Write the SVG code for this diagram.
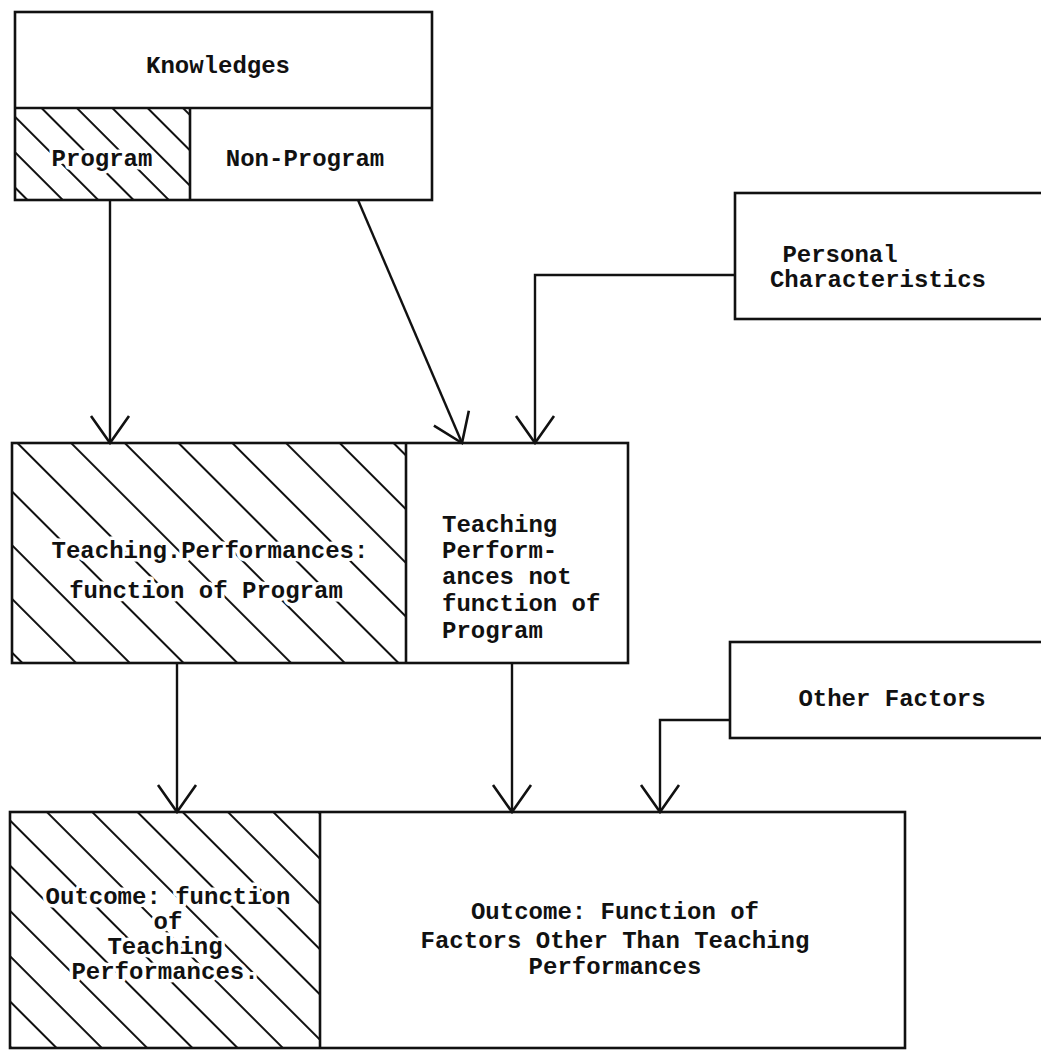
<svg xmlns="http://www.w3.org/2000/svg" width="1041" height="1064" viewBox="0 0 1041 1064">
<style>
.box{fill:none;stroke:#111;stroke-width:2.6}
.wbox{fill:#fff;stroke:#111;stroke-width:2.6}
.t{font-family:"Liberation Mono","Courier New",monospace;font-weight:bold;font-size:24px;fill:#111;text-anchor:middle}
.tl{text-anchor:start}
.halo{stroke:#fff;stroke-width:7;paint-order:stroke;stroke-linejoin:round}
.conn{fill:none;stroke:#111;stroke-width:2.4}
</style>
<defs>
<pattern id="h1" patternUnits="userSpaceOnUse" width="25" height="25" patternTransform="rotate(-45)"><line x1="3" y1="0" x2="3" y2="25" stroke="#111" stroke-width="2"/></pattern>
<pattern id="h2" patternUnits="userSpaceOnUse" width="38" height="38" patternTransform="rotate(-45)"><line x1="3" y1="0" x2="3" y2="38" stroke="#111" stroke-width="2"/></pattern>
<pattern id="h3" patternUnits="userSpaceOnUse" width="32" height="32" patternTransform="rotate(-45)"><line x1="3" y1="0" x2="3" y2="32" stroke="#111" stroke-width="2"/></pattern>
<marker id="arr" markerUnits="userSpaceOnUse" markerWidth="40" markerHeight="50" viewBox="-30 -25 40 50" refX="0" refY="0" orient="auto"><path d="M-27,-19 L0,0 L-27,19" fill="none" stroke="#111" stroke-width="2.6"/></marker>
</defs>
<rect width="1041" height="1064" fill="#fff"/>

<g id="knowledges">
<rect x="15" y="108" width="175" height="92" fill="url(#h1)"/>
<rect class="box" x="15" y="12" width="417" height="188"/>
<line class="box" x1="15" y1="108" x2="432" y2="108"/>
<line class="box" x1="190" y1="108" x2="190" y2="200"/>
<text class="t" x="218" y="73">Knowledges</text>
<text class="t halo" x="102" y="166">Program</text>
<text class="t" x="305" y="166">Non-Program</text>
</g>

<g id="personal">
<rect class="box" x="735" y="193" width="315" height="126"/>
<text class="t" x="840" y="262">Personal</text>
<text class="t" x="878" y="287">Characteristics</text>
</g>

<g id="teaching">
<rect x="12" y="443" width="394" height="220" fill="url(#h2)"/>
<rect class="box" x="12" y="443" width="616" height="220"/>
<line class="box" x1="406" y1="443" x2="406" y2="663"/>
<text class="t halo" x="210" y="558">Teaching.Performances:</text>
<text class="t halo" x="206" y="598">function of Program</text>
<text class="t tl" x="442" y="532">Teaching</text>
<text class="t tl" x="442" y="558">Perform-</text>
<text class="t tl" x="442" y="584">ances not</text>
<text class="t tl" x="442" y="611">function of</text>
<text class="t tl" x="442" y="638">Program</text>
</g>

<g id="other">
<rect class="box" x="730" y="642" width="320" height="96"/>
<text class="t" x="892" y="706">Other Factors</text>
</g>

<g id="outcome">
<rect x="10" y="812" width="310" height="236" fill="url(#h3)"/>
<rect class="box" x="10" y="812" width="895" height="236"/>
<line class="box" x1="320" y1="812" x2="320" y2="1048"/>
<text class="t halo" x="168" y="904">Outcome: function</text>
<text class="t halo" x="168" y="929">of</text>
<text class="t halo" x="165" y="954">Teaching</text>
<text class="t halo" x="165" y="979">Performances.</text>
<text class="t" x="615" y="919">Outcome: Function of</text>
<text class="t" x="615" y="948">Factors Other Than Teaching</text>
<text class="t" x="615" y="974">Performances</text>
</g>

<g id="connectors">
<path class="conn" d="M110,200 L110,443" marker-end="url(#arr)"/>
<path class="conn" d="M358,200 L462,443" marker-end="url(#arr)"/>
<path class="conn" d="M735,275 L535,275 L535,443" marker-end="url(#arr)"/>
<path class="conn" d="M177,663 L177,812" marker-end="url(#arr)"/>
<path class="conn" d="M512,663 L512,812" marker-end="url(#arr)"/>
<path class="conn" d="M730,720 L660,720 L660,812" marker-end="url(#arr)"/>
</g>
</svg>
